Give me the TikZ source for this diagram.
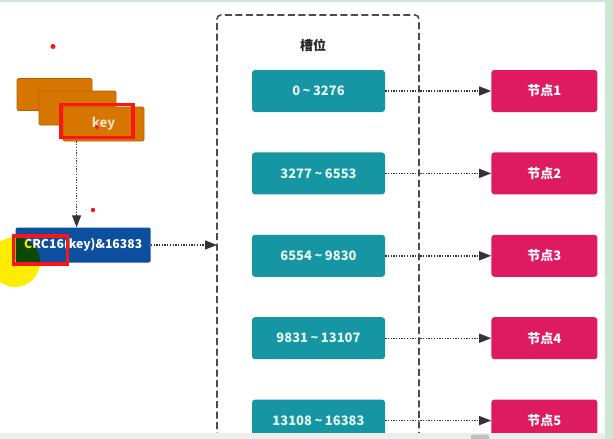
\documentclass[tikz,border=0pt]{standalone}
\usepackage{fontspec}
\setmainfont{Noto Sans CJK SC}
\usetikzlibrary{positioning,arrows.meta}
\definecolor{slotteal}{RGB}{22,150,162}
\definecolor{nodepink}{RGB}{222,26,96}
\definecolor{keyorange}{RGB}{214,118,0}
\definecolor{keyedge}{RGB}{180,96,0}
\definecolor{crcblue}{RGB}{12,78,160}
\definecolor{markred}{RGB}{250,22,22}
\definecolor{markyellow}{RGB}{255,236,0}
\definecolor{framegreen}{RGB}{204,232,212}
\definecolor{slottext}{RGB}{228,248,250}
\definecolor{keytext}{RGB}{248,226,190}
\newcommand{\upto}{\hspace{2.5pt}\textasciitilde\hspace{2.5pt}}

\begin{document}
\begin{tikzpicture}[x=1pt,y=-1pt,
	node distance=40pt and 106pt,
	boxfont/.style={font=\bfseries\fontsize{13}{15}\selectfont},
	slot/.style={boxfont, fill=slotteal, text=slottext, rounded corners=3pt, minimum width=133pt, minimum height=42pt, inner sep=0pt},
	server/.style={boxfont, fill=nodepink, text=white, rounded corners=3pt, minimum width=106pt, minimum height=42pt, inner sep=0pt},
	card/.style={boxfont, fill=keyorange, draw=keyedge, line width=0.8pt, rounded corners=1.5pt, text=keytext, inner sep=0pt},
	hashbox/.style={font=\bfseries\fontsize{12.2}{14}\selectfont, fill=crcblue, text=white, rounded corners=2pt, minimum width=135pt, minimum height=35pt, inner sep=0pt},
	hop/.style={draw=black!80, line width=1.4pt, dash pattern=on 1.3pt off 1.4pt, -{Triangle[length=12pt,width=9pt]}},
	slotframe/.style={draw=black!70, line width=1.6pt, dash pattern=on 7pt off 3.5pt, rounded corners=4pt},
	markbox/.style={draw=markred, line width=3.5pt}]
	\useasboundingbox[fill=white] (0,0) rectangle (613,439);

	% slot frame
	\coordinate (fnw) at (217,15);
	\coordinate (fne) at (419,15);
	\draw[slotframe] (217,450) -- (fnw) -- (fne) -- (419,450);
	\node[boxfont, text=black!85] (title) at (313,45) {槽位};

	\node[slot] (s1) at (318.5,91) {0\upto3276};
	\node[slot, below=of s1] (s2) {3277\upto6553};
	\node[slot, below=of s2] (s3) {6554\upto9830};
	\node[slot, below=of s3] (s4) {9831\upto13107};
	\node[slot, below=of s4] (s5) {13108\upto16383};

	\node[server, right=of s1] (n1) {节点1};
	\node[server, right=of s2] (n2) {节点2};
	\node[server, right=of s3] (n3) {节点3};
	\node[server, right=of s4] (n4) {节点4};
	\node[server, right=of s5] (n5) {节点5};

	\draw[hop] (s1) -- (n1);
	\draw[hop] (s2) -- (n2);
	\draw[hop] (s3) -- (n3);
	\draw[hop] (s4) -- (n4);
	\draw[hop] (s5) -- (n5);

	% keys
	\node[card, minimum width=75pt, minimum height=32pt] (card1) at (54.5,94.5) {};
	\node[card, minimum width=77pt, minimum height=34pt] (card2) at (77.5,108) {};
	\node[card, minimum width=81pt, minimum height=34pt] (card3) at (103.5,124) {key};

	\node[hashbox] (crc) at (83.2,245) {CRC16(key)\&16383};

	\coordinate (drop) at ([xshift=14pt]card3.south west);
	\draw[hop] (drop) -- (drop |- crc.north);
	\draw[hop] (crc.east) -- (crc.east -| fnw);

	% pen marks
	\begin{scope}[blend mode=multiply]
		\fill[markyellow] (15,262) circle (25pt);
	\end{scope}
	\draw[markbox] (61,104.5) rectangle (133,137.5);
	\draw[markbox] (13.5,236) rectangle (67.5,264);
	\fill[markred] (53,46.5) circle (2.5pt);
	\fill[markred] (93,210) circle (2.2pt);
	\fill[markred] (97,127) circle (2pt);

	% window edges
	\fill[framegreen] (0,0) rectangle (613,2);
	\fill[framegreen] (605,0) rectangle (613,439);
	\fill[black!7] (0,433) rectangle (605,439);
	\fill[black!25, rounded corners=2pt] (471,434.5) rectangle (489,442);
\end{tikzpicture}
\end{document}
